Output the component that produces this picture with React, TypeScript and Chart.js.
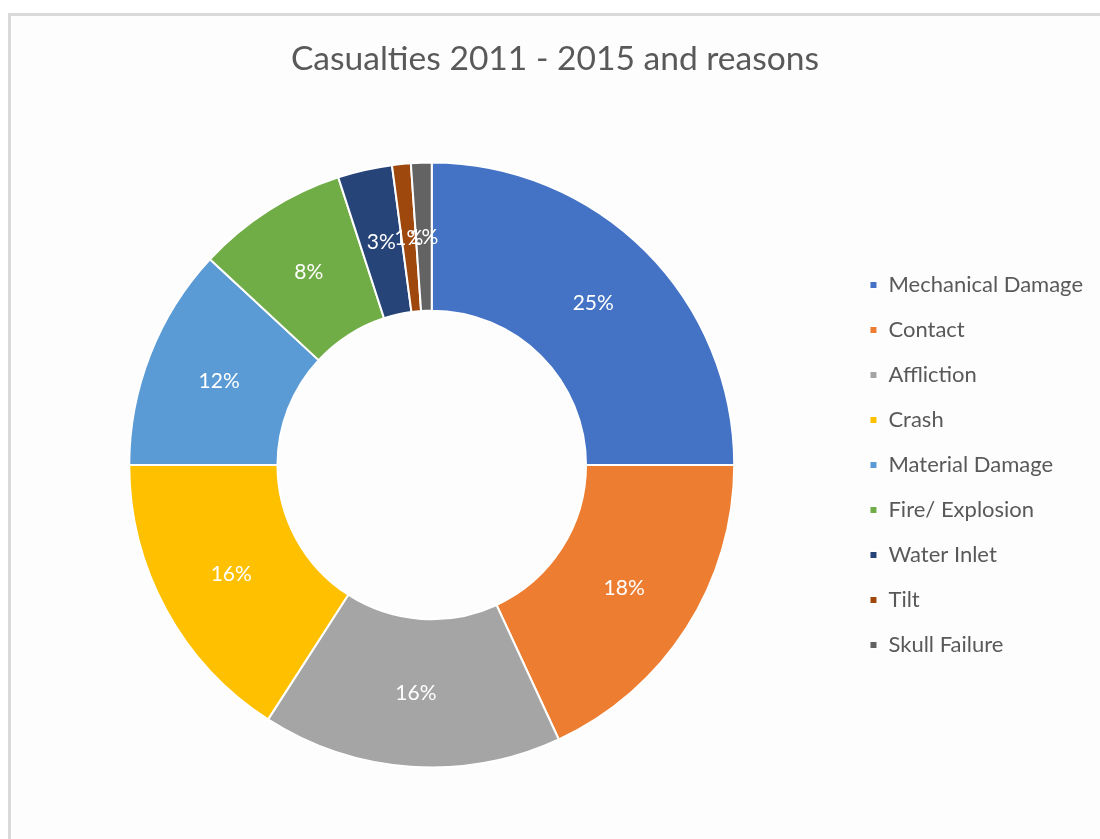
import React, { useEffect, useRef } from "react";
import { Chart, registerables } from "chart.js";

Chart.register(...registerables);

const categories = [
  "Mechanical Damage",
  "Contact",
  "Affliction",
  "Crash",
  "Material Damage",
  "Fire/ Explosion",
  "Water Inlet",
  "Tilt",
  "Skull Failure",
];
const shares = [25, 18.1, 16, 15.9, 11.9, 8.1, 2.9, 1.0, 1.1];
const sliceColors = [
  "#4472C4",
  "#ED7D31",
  "#A5A5A5",
  "#FFC000",
  "#5B9BD5",
  "#70AD47",
  "#264478",
  "#9E480E",
  "#636363",
];
const titleText = "Casualties 2011 - 2015 and reasons";

const FONT = "Lato, 'Open Sans', sans-serif";

const pctLabels = {
  id: "pctLabels",
  afterDatasetsDraw(chart: any) {
    const ctx = chart.ctx;
    const meta = chart.getDatasetMeta(0);
    const data = chart.data.datasets[0].data as number[];
    const total = data.reduce((a, b) => a + b, 0);
    ctx.save();
    ctx.font = `21px ${FONT}`;
    ctx.fillStyle = "#ffffff";
    ctx.textAlign = "center";
    ctx.textBaseline = "middle";
    meta.data.forEach((arc: any, i: number) => {
      const p = arc.tooltipPosition(false);
      ctx.fillText(Math.round((data[i] / total) * 100) + "%", p.x, p.y);
    });
    ctx.restore();
  },
};

export default function App() {
  const ref = useRef<HTMLCanvasElement | null>(null);
  useEffect(() => {
    if (!ref.current) return;
    const chart = new Chart(ref.current, {
      type: "doughnut",
      data: {
        labels: categories,
        datasets: [
          {
            data: shares,
            backgroundColor: sliceColors,
            borderColor: "#ffffff",
            borderWidth: 2,
            hoverOffset: 0,
          },
        ],
      },
      options: {
        responsive: false,
        animation: false,
        cutout: "51%",
        layout: { padding: { left: 17, right: 57, top: 0, bottom: 70.5 } },
        plugins: {
          tooltip: { enabled: false },
          title: {
            display: true,
            text: titleText,
            color: "#595959",
            font: { family: FONT, size: 33.6, weight: "normal", lineHeight: 1.2 },
            padding: { top: 38.8, bottom: 82.4 },
          },
          legend: {
            position: "right",
            align: "center",
            fullSize: false,
            labels: {
              boxWidth: 8,
              boxHeight: 8,
              padding: 23,
              color: "#595959",
              font: { family: FONT, size: 22 },
            },
          },
        },
      },
      plugins: [pctLabels],
    });
    return () => chart.destroy();
  }, []);

  return (
    <div
      style={{
        position: "fixed",
        left: 0,
        top: 0,
        width: 1100,
        height: 839,
        overflow: "hidden",
        background: "#ffffff",
      }}
    >
      <div
        style={{
          position: "absolute",
          left: 8,
          top: 13,
          width: 1200,
          height: 900,
          border: "3px solid #d9d9d9",
          boxSizing: "border-box",
          background: "#fdfdfd",
        }}
      />
      <canvas ref={ref} width={1150} height={839} style={{ position: "absolute", left: 0, top: 0 }} />
    </div>
  );
}
